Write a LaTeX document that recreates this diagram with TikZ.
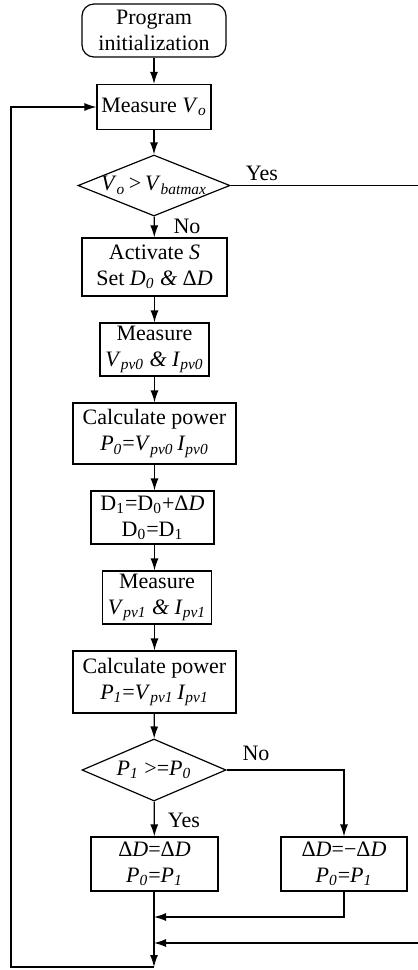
\documentclass[tikz,border=0pt]{standalone}
\usepackage{fontspec}
\setmainfont{Liberation Serif}
\usetikzlibrary{shapes.geometric, arrows.meta}

\newcommand{\isub}[2]{\textit{#1}\textsubscript{\textit{#2}}}

\tikzset{
  procbox/.style={draw, align=center, inner sep=0pt},
  startbox/.style={procbox, rounded corners=6pt},
  decbox/.style={draw, diamond, aspect=2.5, inner sep=0pt, align=center},
  lbl/.style={inner sep=0pt},
}

\begin{document}
\begin{tikzpicture}[x=0.5pt, y=-0.5pt, line width=0.6pt,
    font=\fontsize{11}{13}\selectfont, >={Latex[length=6pt,width=4pt]}]
  \useasboundingbox (0,0) rectangle (418,970);

  % --- main column ---
  \node[startbox, minimum width=72pt, minimum height=26.5pt] (init) at (154,30.5)
    {Program\\initialization};
  \node[procbox, minimum width=57pt, minimum height=22.5pt] (meas) at (154,107)
    {Measure \isub{V}{o}};
  \node[decbox, minimum width=76pt, minimum height=30.5pt] (dec1) at (154,185.5)
    {\isub{V}{o}\,>\,\isub{V}{batmax}};
  \node[procbox, minimum width=72.5pt, minimum height=29pt] (act) at (154.5,267)
    {Activate \textit{S}\\Set \isub{D}{0} \textit{\&} Δ\textit{D}};
  \node[procbox, minimum width=54.5pt, minimum height=26.5pt] (meas0) at (154.5,349.5)
    {Measure\\\isub{V}{pv0} \textit{\&} \isub{I}{pv0}};
  \node[procbox, minimum width=81.5pt, minimum height=30.5pt] (calc0) at (154.5,433.5)
    {Calculate power\\\isub{P}{0}=\isub{V}{pv0}\,\isub{I}{pv0}};
  \node[procbox, minimum width=61.5pt, minimum height=26.5pt] (upd) at (152.5,517.5)
    {D\textsubscript{1}=D\textsubscript{0}+Δ\textit{D}\\D\textsubscript{0}=D\textsubscript{1}};
  \node[procbox, minimum width=54.5pt, minimum height=26.5pt] (meas1) at (157,597.5)
    {Measure\\\isub{V}{pv1} \textit{\&} \isub{I}{pv1}};
  \node[procbox, minimum width=81.5pt, minimum height=31pt] (calc1) at (154.5,682)
    {Calculate power\\\isub{P}{1}=\isub{V}{pv1}\,\isub{I}{pv1}};
  \node[decbox, minimum width=72pt, minimum height=31pt] (dec2) at (154,770)
    {\isub{P}{1} >=\isub{P}{0}};

  % --- branches ---
  \node[procbox, minimum width=63.5pt, minimum height=27pt] (keep) at (154.5,864)
    {Δ\textit{D}=Δ\textit{D}\\\isub{P}{0}=\isub{P}{1}};
  \node[procbox, minimum width=63pt, minimum height=27pt] (flip) at (344,864)
    {Δ\textit{D}=−Δ\textit{D}\\\isub{P}{0}=\isub{P}{1}};

  \node[lbl] (yes1) at (262,173) {Yes};
  \node[lbl] (no1) at (187,226) {No};
  \node[lbl] (no2) at (256,753) {No};
  \node[lbl] (yes2) at (184,820) {Yes};

  \coordinate (yesR) at (421,185.5);
  \coordinate (j1) at (154,917);
  \coordinate (j2) at (154,943);
  \coordinate (bot) at (154,967);
  \coordinate (loopL) at (11,107);

  % --- connectors ---
  \draw[->] (init) -- (meas);
  \draw[->] (meas) -- (dec1);
  \draw[->] (dec1) -- (act);
  \draw[->] (act) -- (meas0);
  \draw[->] (meas0) -- (calc0);
  \draw[->] (calc0) -- (upd.north -| calc0);
  \draw[->] (upd.south -| calc0) -- (meas1.north -| calc0);
  \draw[->] (meas1.south -| calc0) -- (calc1);
  \draw[->] (calc1) -- (dec2);
  \draw[->] (dec2) -- (keep);
  \draw[->] (dec2.east) -| (flip.north);
  \draw[->] (flip.south) |- (j1);
  \draw (dec1.east) -- (yesR);
  \draw[->] (yesR) |- (j2);
  \draw[->] (keep.south -| j1) -- (bot);
  \draw[->] (bot) -| (loopL) -- (meas.west);

\end{tikzpicture}
\end{document}
